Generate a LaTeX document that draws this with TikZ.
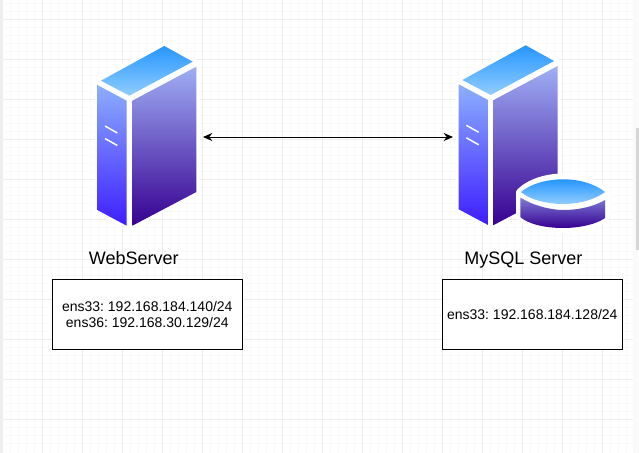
\documentclass[tikz,border=0pt]{standalone}
\usepackage{fontspec}
\setmainfont{Liberation Sans}
\usetikzlibrary{arrows.meta, positioning}
\definecolor{gridminor}{RGB}{250, 250, 250}
\definecolor{gridmajor}{RGB}{238, 238, 238}
\definecolor{topdark}{RGB}{38, 150, 255}
\definecolor{toplight}{RGB}{145, 205, 255}
\definecolor{leftlight}{RGB}{140, 175, 255}
\definecolor{leftdark}{RGB}{62, 30, 255}
\definecolor{rightlight}{RGB}{160, 175, 245}
\definecolor{rightdark}{RGB}{55, 0, 145}
\definecolor{sidelight}{RGB}{125, 125, 215}
\tikzset{
  servericon/.pic={
    \fill[white, draw=white, line width=4.5pt, line join=round] (164.3,46) -- (196.3,63) -- (196.3,192) -- (129.3,226) -- (97.3,210) -- (97.3,81) -- cycle;
    \shade[top color=topdark, bottom color=toplight] (164.3,46) -- (192.7,61.7) -- (129.3,95.7) -- (101,80.7) -- cycle;
    \shade[top color=leftlight, bottom color=leftdark] (97.3,85) -- (126.7,100.7) -- (126.7,225.7) -- (97.3,210) -- cycle;
    \shade[top color=rightlight, bottom color=rightdark] (132.3,100.7) -- (196.3,66.7) -- (196.3,192) -- (132.3,225.7) -- cycle;
    \draw[white, line width=1.1pt] (105,126) -- (117.3,133) (105,138.5) -- (117.3,145.5);
  }
}
\frenchspacing
\begin{document}
\begin{tikzpicture}[
  x=0.75pt, y=-0.75pt,
  iconbox/.style={minimum width=84pt, minimum height=135pt, inner sep=0pt, outer sep=0pt},
  titlelabel/.style={font=\fontsize{13.5}{15.5}\selectfont, inner sep=0pt, anchor=base},
  ipbox/.style={draw, fill=white, line width=0.75pt, minimum height=52.5pt, inner sep=0pt, align=center, font=\fontsize{10.5}{12}\selectfont}
]
  \useasboundingbox (0,0) rectangle (639,453);
  \fill[white] (0,0) rectangle (639,453);
  % Page grid
  \foreach \x in {10.5,18.5,...,634} \draw[gridminor, line width=0.75pt] (\x,0) -- (\x,453);
  \foreach \y in {3.5,11.5,...,451} \draw[gridminor, line width=0.75pt] (3,\y) -- (633,\y);
  \foreach \x in {42.5,82.5,...,634} \draw[gridmajor, line width=0.75pt] (\x,0) -- (\x,453);
  \foreach \y in {19.5,59.5,...,451} \draw[gridmajor, line width=0.75pt] (3,\y) -- (633,\y);
  \fill[gridmajor] (0,0) rectangle (2.5,453);
  \fill[gridminor] (633,0) rectangle (639,453);
  \fill[gridmajor!90!black] (636,128) rectangle (639,250);

  % Servers
  \pic at (0,0) {servericon};
  \pic at (361.4,-0.7) {servericon};

  % Database disk
  \fill[white, draw=white, line width=4.5pt, line join=round] (519,192) .. controls (530,181) and (548,176.5) .. (563,176.5) .. controls (580,176.5) and (597,182) .. (607,192) -- (607,217) .. controls (600,225) and (580,230) .. (563,230) .. controls (545,230) and (527,225) .. (519,216) -- cycle;
  \shade[top color=sidelight, bottom color=rightdark] (520.3,197.5) .. controls (532,205) and (550,210) .. (563,210) .. controls (580,210) and (595,206) .. (605,200) -- (605,218) .. controls (597,224) and (580,228) .. (563,228) .. controls (545,228) and (528,224) .. (520.3,217) -- cycle;
  \shade[top color=topdark, bottom color=toplight] (521,192) .. controls (532,183) and (548,179.3) .. (563,179.3) .. controls (580,179.3) and (595,184) .. (605,192) .. controls (596,199) and (580,204) .. (563,204) .. controls (548,204) and (530,200) .. (521,192) -- cycle;

  % Connector end nodes
  \node[iconbox] (webicon) at (147,137) {};
  \node[iconbox] (dbicon) at (509,137) {};
  \draw[{Stealth[length=7pt,width=6pt]}-{Stealth[length=7pt,width=6pt]}, line width=0.75pt] (webicon) -- (dbicon);

  % Labels
  \node[titlelabel] (webtitle) at (133.7,264) {WebServer};
  \node[titlelabel] (dbtitle) at (523.3,264) {MySQL Server};
  \node[ipbox, minimum width=142.5pt] (webip) at (147.3,314.3) {ens33: 192.168.184.140/24\\ens36: 192.168.30.129/24};
  \node[ipbox, minimum width=135pt] (dbip) at (532.3,314.3) {ens33: 192.168.184.128/24};
\end{tikzpicture}
\end{document}
